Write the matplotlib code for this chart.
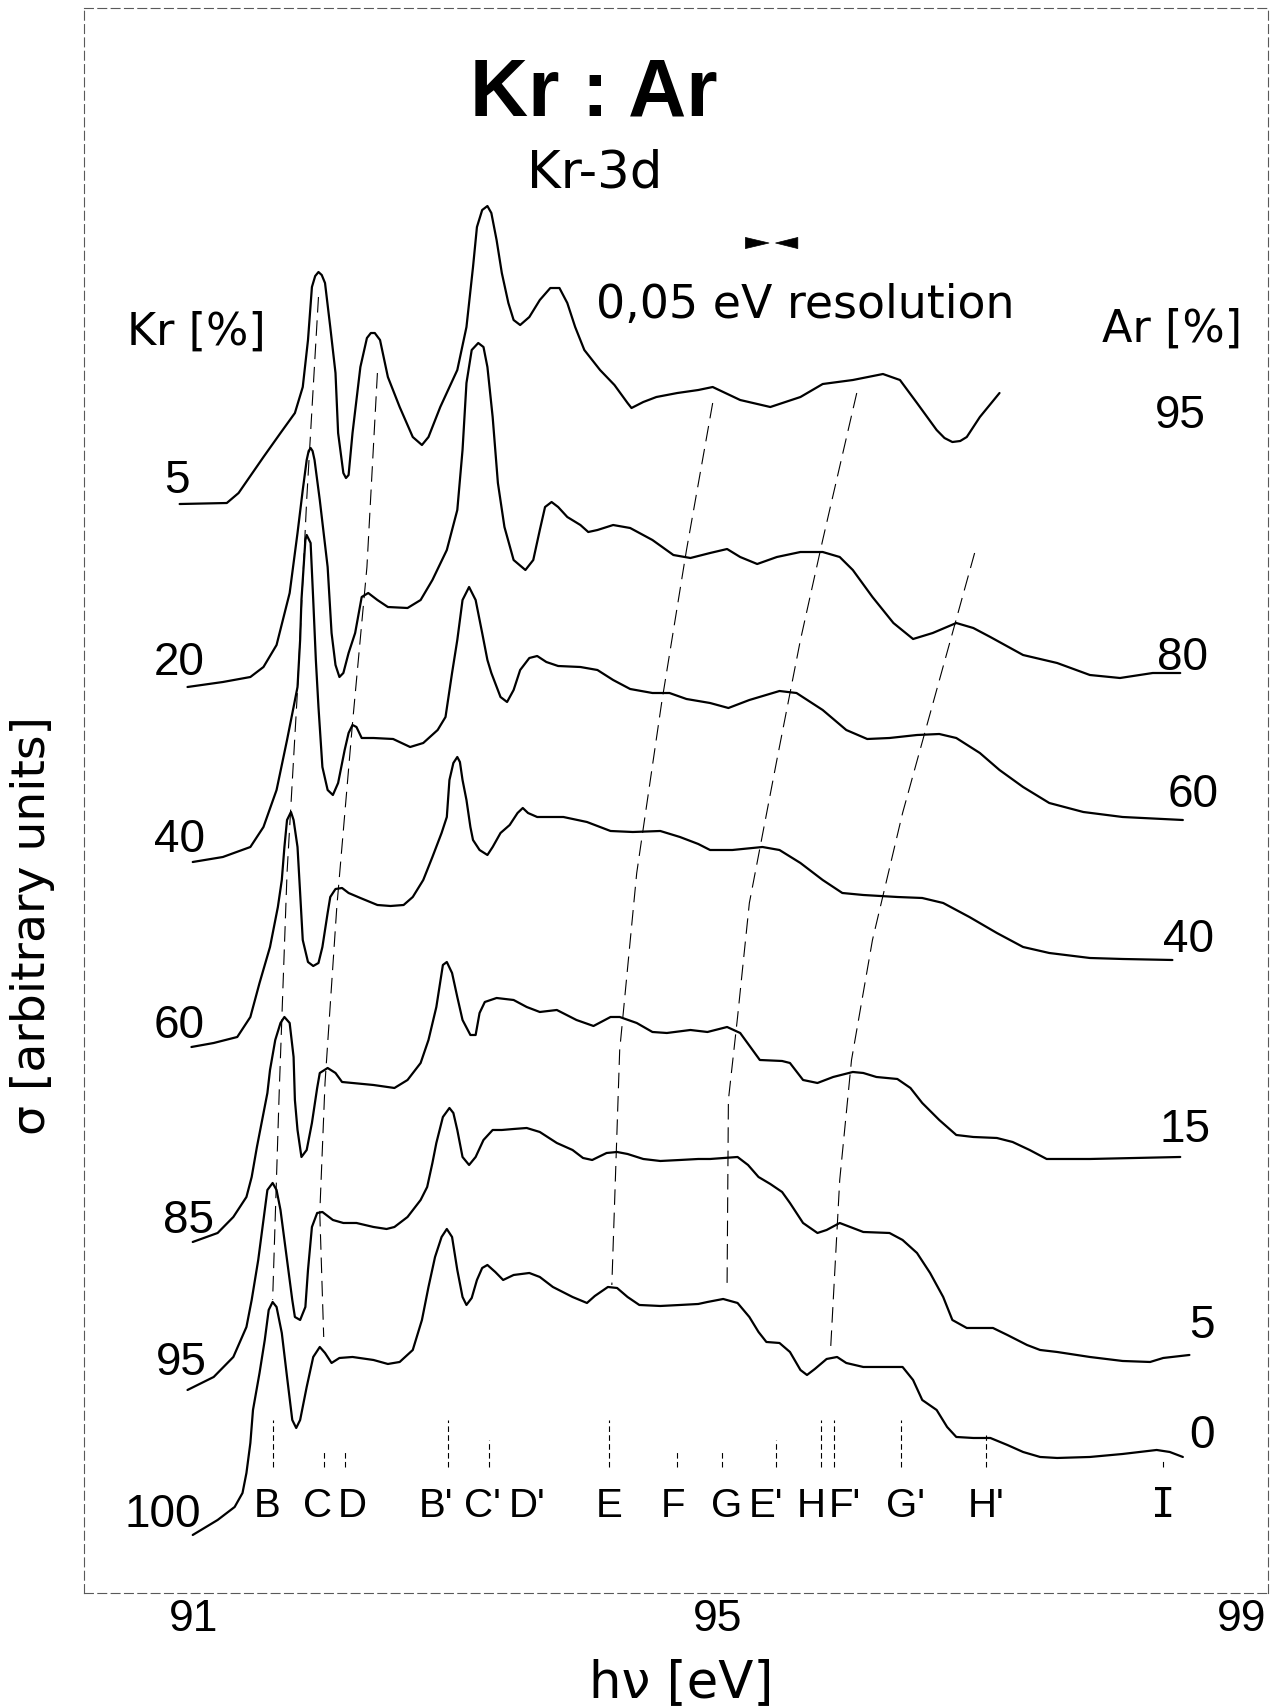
import matplotlib
matplotlib.use("Agg")
import matplotlib.pyplot as plt
from matplotlib import font_manager

# spectra: (hv [eV], sigma [arb. units]) -- stacking offset already included
kr5_ar95 = [(90.89, 1096), (91.25, 1097), (91.34, 1107), (91.53, 1143), (91.66, 1167), (91.77, 1187),
            (91.83, 1213), (91.87, 1260), (91.90, 1313), (91.925, 1324), (91.95, 1328), (91.975, 1325),
            (92.00, 1317), (92.04, 1273), (92.08, 1227), (92.10, 1167), (92.14, 1127), (92.16, 1122),
            (92.18, 1125), (92.21, 1167), (92.27, 1233), (92.32, 1262), (92.35, 1267), (92.38, 1267),
            (92.42, 1260), (92.48, 1223), (92.57, 1193), (92.67, 1163), (92.74, 1155), (92.79, 1163),
            (92.88, 1193), (93.01, 1230), (93.08, 1273), (93.13, 1333), (93.16, 1373), (93.20, 1390),
            (93.24, 1394), (93.27, 1387), (93.31, 1360), (93.35, 1327), (93.40, 1297), (93.44, 1280),
            (93.49, 1275), (93.56, 1283), (93.64, 1300), (93.72, 1312), (93.79, 1312), (93.85, 1297),
            (93.91, 1273), (93.98, 1250), (94.10, 1230), (94.21, 1215), (94.31, 1197), (94.34, 1192),
            (94.43, 1198), (94.53, 1203), (94.69, 1207), (94.85, 1210), (94.96, 1213), (95.17, 1200),
            (95.40, 1193), (95.63, 1203), (95.80, 1216), (96.03, 1220), (96.26, 1226), (96.39, 1220),
            (96.52, 1197), (96.67, 1170), (96.73, 1162), (96.79, 1158), (96.85, 1159), (96.90, 1163),
            (97.00, 1183), (97.15, 1207)]

kr20_ar80 = [(90.95, 913), (91.22, 918), (91.43, 923), (91.53, 933), (91.63, 955), (91.73, 1007),
             (91.79, 1067), (91.83, 1110), (91.86, 1140), (91.875, 1149), (91.89, 1152), (91.905, 1149),
             (91.92, 1140), (91.96, 1100), (92.02, 1033), (92.05, 967), (92.08, 935), (92.11, 923),
             (92.14, 927), (92.18, 947), (92.23, 967), (92.28, 1003), (92.33, 1007), (92.40, 1000),
             (92.48, 993), (92.63, 992), (92.73, 1000), (92.82, 1020), (92.93, 1050), (93.01, 1090),
             (93.05, 1150), (93.08, 1217), (93.12, 1250), (93.17, 1257), (93.21, 1253), (93.24, 1233),
             (93.28, 1183), (93.32, 1117), (93.37, 1073), (93.44, 1040), (93.53, 1030), (93.59, 1040),
             (93.64, 1070), (93.68, 1093), (93.73, 1098), (93.78, 1093), (93.85, 1083), (93.95, 1075),
             (94.01, 1068), (94.08, 1070), (94.20, 1075), (94.33, 1072), (94.50, 1060), (94.66, 1045),
             (94.79, 1042), (94.94, 1047), (95.07, 1051), (95.17, 1043), (95.30, 1036), (95.45, 1043),
             (95.63, 1048), (95.80, 1048), (95.93, 1043), (96.03, 1030), (96.18, 1003), (96.34, 977),
             (96.49, 961), (96.64, 967), (96.82, 977), (96.95, 972), (97.08, 963), (97.33, 945),
             (97.59, 937), (97.84, 925), (98.07, 922), (98.32, 927), (98.53, 927)]

kr40_ar60 = [(90.99, 738), (91.22, 743), (91.43, 753), (91.53, 773), (91.63, 810), (91.71, 860),
             (91.76, 893), (91.79, 913), (91.81, 960), (91.82, 1000), (91.85, 1060), (91.86, 1065),
             (91.89, 1057), (91.91, 1000), (91.93, 940), (91.95, 893), (91.98, 833), (92.02, 810),
             (92.06, 805), (92.10, 817), (92.15, 850), (92.18, 867), (92.21, 875), (92.24, 873),
             (92.28, 862), (92.37, 862), (92.52, 861), (92.65, 853), (92.75, 857), (92.86, 870),
             (92.92, 883), (92.97, 927), (93.01, 960), (93.05, 1000), (93.10, 1013), (93.15, 1000),
             (93.20, 967), (93.24, 940), (93.27, 927), (93.34, 903), (93.39, 898), (93.44, 910),
             (93.49, 930), (93.56, 942), (93.62, 944), (93.69, 938), (93.78, 934), (93.95, 933),
             (94.08, 930), (94.20, 920), (94.33, 911), (94.50, 907), (94.63, 907), (94.76, 901),
             (94.94, 897), (95.08, 892), (95.24, 900), (95.47, 909), (95.60, 907), (95.80, 890),
             (95.98, 870), (96.14, 861), (96.31, 862), (96.52, 865), (96.69, 866), (96.82, 862),
             (97.00, 847), (97.15, 830), (97.33, 813), (97.53, 797), (97.79, 788), (98.09, 783),
             (98.55, 780)]

kr60_ar40 = [(90.98, 553), (91.15, 557), (91.33, 563), (91.43, 583), (91.50, 617), (91.58, 653),
             (91.64, 693), (91.67, 720), (91.69, 753), (91.71, 780), (91.74, 788), (91.76, 780),
             (91.79, 753), (91.81, 707), (91.83, 660), (91.87, 638), (91.91, 634), (91.95, 637),
             (91.98, 653), (92.02, 687), (92.04, 703), (92.08, 711), (92.13, 712), (92.18, 707),
             (92.27, 702), (92.40, 695), (92.50, 694), (92.60, 695), (92.67, 703), (92.75, 720),
             (92.82, 743), (92.89, 767), (92.93, 783), (92.95, 820), (92.98, 837), (93.01, 843),
             (93.03, 838), (93.05, 820), (93.08, 800), (93.11, 773), (93.13, 760), (93.18, 750),
             (93.24, 745), (93.28, 753), (93.34, 767), (93.41, 775), (93.47, 787), (93.51, 792),
             (93.55, 787), (93.62, 783), (93.82, 783), (94.00, 778), (94.18, 769), (94.35, 768),
             (94.56, 769), (94.71, 763), (94.85, 756), (94.94, 750), (95.11, 750), (95.34, 753),
             (95.47, 750), (95.63, 737), (95.80, 720), (95.95, 707), (96.11, 705), (96.37, 703),
             (96.56, 702), (96.72, 697), (96.92, 683), (97.13, 667), (97.33, 653), (97.53, 647),
             (97.84, 642), (98.09, 641), (98.47, 640)]

kr85_ar15 = [(90.99, 358), (91.18, 367), (91.30, 383), (91.40, 403), (91.44, 423), (91.48, 453),
             (91.52, 480), (91.56, 507), (91.58, 530), (91.62, 560), (91.66, 577), (91.69, 583),
             (91.73, 577), (91.76, 543), (91.77, 500), (91.79, 470), (91.82, 443), (91.86, 450),
             (91.90, 477), (91.94, 512), (91.96, 527), (92.02, 532), (92.08, 527), (92.13, 518),
             (92.21, 517), (92.37, 515), (92.53, 512), (92.63, 520), (92.73, 537), (92.79, 560),
             (92.85, 593), (92.90, 635), (92.93, 638), (92.97, 627), (93.01, 603), (93.05, 580),
             (93.11, 565), (93.15, 565), (93.18, 587), (93.22, 598), (93.31, 602), (93.44, 600),
             (93.54, 593), (93.64, 588), (93.77, 590), (93.92, 580), (94.05, 574), (94.18, 583),
             (94.25, 583), (94.38, 577), (94.50, 568), (94.61, 567), (94.79, 570), (94.92, 568),
             (95.07, 573), (95.17, 567), (95.32, 540), (95.49, 539), (95.55, 537), (95.65, 520),
             (95.76, 517), (95.88, 523), (96.03, 528), (96.11, 527), (96.21, 523), (96.37, 521),
             (96.47, 512), (96.56, 497), (96.69, 480), (96.82, 465), (96.95, 463), (97.13, 462),
             (97.25, 458), (97.38, 450), (97.51, 441), (97.84, 441), (98.53, 443)]

kr95_ar5 = [(90.95, 210), (91.15, 223), (91.30, 243), (91.40, 273), (91.44, 300), (91.49, 340),
            (91.54, 390), (91.56, 410), (91.60, 417), (91.63, 410), (91.66, 390), (91.71, 340),
            (91.75, 300), (91.77, 283), (91.81, 280), (91.85, 293), (91.87, 330), (91.90, 373),
            (91.94, 387), (91.98, 388), (92.06, 380), (92.14, 377), (92.24, 377), (92.37, 373),
            (92.47, 371), (92.53, 373), (92.63, 383), (92.73, 400), (92.78, 413), (92.82, 437),
            (92.85, 457), (92.90, 483), (92.95, 492), (92.98, 487), (93.01, 470), (93.05, 443),
            (93.10, 435), (93.15, 443), (93.21, 460), (93.28, 470), (93.35, 470), (93.44, 471),
            (93.54, 472), (93.64, 468), (93.77, 457), (93.89, 450), (93.97, 442), (94.04, 440),
            (94.15, 447), (94.23, 448), (94.31, 446), (94.43, 441), (94.56, 439), (94.71, 440),
            (94.85, 441), (94.94, 441), (95.15, 443), (95.23, 435), (95.31, 423), (95.40, 416),
            (95.49, 408), (95.55, 397), (95.65, 377), (95.76, 367), (95.83, 370), (95.93, 377),
            (96.03, 372), (96.11, 368), (96.31, 367), (96.41, 360), (96.52, 347), (96.62, 327),
            (96.72, 303), (96.79, 280), (96.90, 272), (97.10, 272), (97.21, 265), (97.36, 255),
            (97.46, 250), (97.59, 248), (97.84, 243), (98.09, 239), (98.30, 238), (98.40, 242),
            (98.60, 245)]

kr100_ar0 = [(90.99, 65), (91.18, 80), (91.31, 93), (91.37, 107), (91.40, 127), (91.43, 157),
             (91.45, 190), (91.50, 227), (91.54, 260), (91.57, 290), (91.60, 298), (91.63, 293),
             (91.67, 267), (91.71, 223), (91.75, 180), (91.78, 172), (91.81, 180), (91.86, 213),
             (91.91, 243), (91.96, 253), (92.00, 247), (92.05, 237), (92.11, 242), (92.21, 243),
             (92.37, 240), (92.48, 236), (92.57, 238), (92.67, 250), (92.74, 280), (92.79, 313),
             (92.84, 343), (92.89, 363), (92.93, 371), (92.97, 363), (93.01, 330), (93.05, 303),
             (93.08, 295), (93.12, 302), (93.16, 320), (93.20, 332), (93.24, 335), (93.30, 328),
             (93.36, 320), (93.44, 325), (93.56, 327), (93.64, 323), (93.74, 313), (93.89, 303),
             (94.00, 297), (94.06, 304), (94.16, 313), (94.23, 312), (94.31, 303), (94.40, 295),
             (94.56, 294), (94.71, 295), (94.85, 296), (94.92, 298), (95.04, 301), (95.15, 297),
             (95.24, 283), (95.31, 268), (95.37, 258), (95.47, 257), (95.55, 248), (95.63, 230),
             (95.68, 225), (95.74, 231), (95.83, 241), (95.91, 243), (95.98, 237), (96.11, 233),
             (96.26, 233), (96.41, 233), (96.49, 220), (96.56, 200), (96.67, 190), (96.75, 173),
             (96.82, 163), (96.95, 162), (97.08, 162), (97.21, 155), (97.33, 148), (97.46, 143),
             (97.59, 142), (97.84, 143), (98.09, 146), (98.35, 150), (98.45, 148), (98.55, 143)]

spectra = [kr5_ar95, kr20_ar80, kr40_ar60, kr60_ar40, kr85_ar15, kr95_ar5, kr100_ar0]

# mixture labels, left (Kr %) and right (Ar %)
kr_percent = ["5", "20", "40", "60", "85", "95", "100"]
kr_label_x = [90.97, 91.08, 91.08, 91.08, 91.15, 91.10, 91.05]   # right edge
kr_label_y = [1107, 925, 748, 562, 367, 225, 73]                 # baseline
ar_percent = ["95", "80", "60", "40", "15", "5", "0"]
ar_label_x = [98.34, 98.35, 98.43, 98.40, 98.37, 98.60, 98.60]   # left edge
ar_label_y = [1172, 930, 793, 648, 458, 262, 152]

# dashed lines following one resonance through the series
guide_B = [(91.95, 1303), (91.86, 1100), (91.79, 910), (91.71, 727), (91.65, 507), (91.60, 300)]
guide_CD = [(92.40, 1227), (92.32, 1033), (92.21, 877), (92.09, 693), (92.00, 517), (91.96, 387), (91.99, 263)]
guide_E = [(94.96, 1197), (94.76, 1050), (94.57, 897), (94.38, 727), (94.25, 550), (94.19, 315)]
guide_G = [(96.06, 1207), (95.80, 1060), (95.63, 960), (95.45, 840), (95.24, 697), (95.15, 583),
           (95.08, 500), (95.07, 317)]
guide_F = [(96.96, 1047), (96.67, 910), (96.41, 787), (96.18, 660), (96.02, 540), (95.93, 420), (95.86, 250)]
guides = [guide_B, guide_CD, guide_E, guide_G, guide_F]

# resonance names along the bottom
peak_names = ["B", "C", "D", "B'", "C'", "D'", "E", "F", "G", "E'", "H", "F'", "G'", "H'", "I"]
peak_name_x = [91.56, 91.94, 92.21, 92.85, 93.20, 93.54, 94.17, 94.66, 95.07, 95.37, 95.71, 95.97,
               96.43, 97.05, 98.40]
peak_tick_x = [91.60, 91.99, 92.15, 92.94, 93.25, 94.17, 94.69, 95.03, 95.44, 95.79, 95.89, 96.40,
               97.05, 98.40]
peak_tick_top = [180, 150, 150, 180, 160, 180, 150, 150, 160, 180, 180, 180, 165, 140]

x_ticks = [91, 95, 99]
# resolution marker: two wedges pointing at each other (base, tip, tip, base)
resolution_marks = [95.21, 95.39, 95.44, 95.61]

installed = {f.name for f in font_manager.fontManager.ttflist}
if "Liberation Sans Narrow" in installed:
    narrow, title_size, letter_size, tick_size = "Liberation Sans Narrow", 65, 32, 37
else:
    narrow, title_size, letter_size, tick_size = "Liberation Sans", 58, 29, 32
regular = "DejaVu Sans"
digits = "Liberation Sans"

fig = plt.figure(figsize=(12.83, 17.07), dpi=100)
ax = fig.add_axes([0.0655, 0.0668, 0.9228, 0.9285])

for pts in spectra:
    x, y = zip(*pts)
    ax.plot(x, y, color="black", lw=1.6, solid_joinstyle="round", solid_capstyle="round")

for pts in guides:
    x, y = zip(*pts)
    ax.plot(x, y, color="black", lw=0.8, dashes=(14, 7))

ax.vlines(peak_tick_x, 133, peak_tick_top, colors="black", lw=0.8, linestyles=(0, (5, 3)))

for name, xn in zip(peak_names, peak_name_x):
    fam = "DejaVu Sans Mono" if name == "I" else narrow
    ax.text(xn, 83, name, ha="center", va="baseline", fontsize=letter_size, family=fam)

for lab, xl, yl in zip(kr_percent, kr_label_x, kr_label_y):
    ax.text(xl, yl, lab, ha="right", va="baseline", fontsize=33, family=digits)
for lab, xl, yl in zip(ar_percent, ar_label_x, ar_label_y):
    ax.text(xl, yl, lab, ha="left", va="baseline", fontsize=33, family=digits)

ax.text(94.05, 1485, "Kr : Ar", ha="center", va="baseline", fontsize=title_size,
        fontweight="bold", family=narrow)
ax.text(94.06, 1413, "Kr-3d", ha="center", va="baseline", fontsize=37, family=regular)
ax.text(95.67, 1282, "0,05 eV resolution", ha="center", va="baseline", fontsize=33, family=regular)
ax.text(91.02, 1255, "Kr [%]", ha="center", va="baseline", fontsize=32, family=regular)
ax.text(98.47, 1258, "Ar [%]", ha="center", va="baseline", fontsize=32, family=regular)

wedge = dict(arrowstyle="wedge,tail_width=0.4", fc="black", ec="black", lw=0.5,
             mutation_scale=20, shrinkA=0, shrinkB=0)
ax.annotate("", xy=(resolution_marks[1], 1357), xytext=(resolution_marks[0], 1357), arrowprops=wedge)
ax.annotate("", xy=(resolution_marks[2], 1357), xytext=(resolution_marks[3], 1357), arrowprops=wedge)

ax.set_xlim(90.16, 99.20)
ax.set_ylim(7, 1592)
ax.set_xticks(x_ticks)
ax.set_xticklabels([str(t) for t in x_ticks], fontsize=tick_size, family=narrow)
ax.tick_params(axis="x", length=0, pad=4)
ax.set_yticks([])

for s in ax.spines.values():
    s.set_linestyle((0, (8, 4)))
    s.set_linewidth(0.8)
    s.set_color("0.35")

fig.text(0.531, 0.006, "h\u03bd [eV]", ha="center", va="baseline", fontsize=37, family=regular)
fig.text(0.0257, 0.458, "\u03c3 [arbitrary units]", ha="center", va="center", rotation=90,
         fontsize=34, family=regular)

fig.savefig("out.png", dpi=100)
